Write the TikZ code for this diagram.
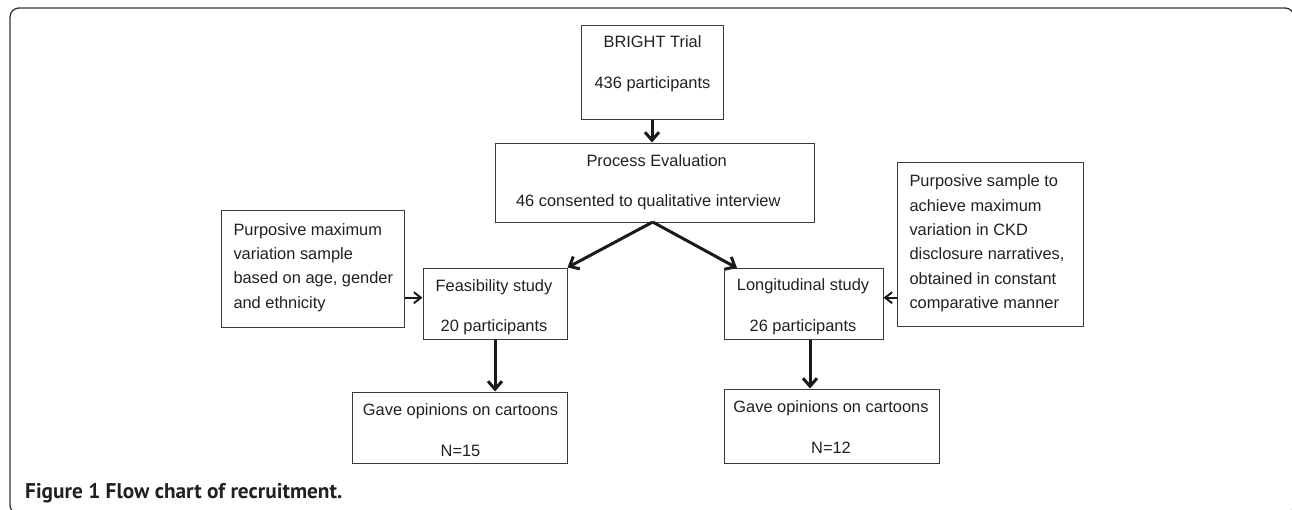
\documentclass[tikz,border=0pt]{standalone}
\usepackage{graphicx}
\usepackage{fontspec}
\setmainfont{Liberation Sans}
\newfontfamily\capfont{PT Sans}
\usetikzlibrary{arrows.meta,fit}
\definecolor{boxcol}{HTML}{3A3A3A}
\definecolor{txtcol}{HTML}{231F20}
\definecolor{arrcol}{HTML}{1A1A1A}
\definecolor{framecol}{HTML}{333333}
\begin{document}
\begin{tikzpicture}[x=1pt,y=-1pt,
  box/.style={draw=boxcol, line width=1pt, inner sep=0pt},
  txt/.style={text=txtcol, inner sep=0pt, font=\fontsize{16.4}{24.4}\selectfont},
  pairtxt/.style={text=txtcol, inner sep=0pt, anchor=base, font=\fontsize{16.4}{40.7}\selectfont},
  bigarrow/.style={draw=arrcol, line width=3pt, -{Straight Barb[length=8pt,width=14pt]}},
  smallarrow/.style={draw=arrcol, line width=2pt, -{Straight Barb[length=7pt,width=11pt]}}
]
\useasboundingbox (0,0) rectangle (1292,509);
\draw[framecol, line width=1.3pt, rounded corners=9pt] (10,8) rectangle (1294,514);

% boxes
\node[box, fit={(581,25) (723,119)}] (bright) {};
\node[box, fit={(495,143) (814,222)}] (process) {};
\node[box, fit={(423,268) (567,339)}] (feas) {};
\node[box, fit={(724,268) (883,339)}] (long) {};
\node[box, fit={(221,210) (404,327)}] (leftnote) {};
\node[box, fit={(897,162) (1083,326)}] (rightnote) {};
\node[box, fit={(352,392) (567,463)}] (gaveL) {};
\node[box, fit={(724,389) (939,463)}] (gaveR) {};

% texts
\node[pairtxt] (brightT) at (652.5,47.7) {\begin{tabular}[t]{@{}c@{}}BRIGHT Trial\\436 participants\end{tabular}};
\node[txt, anchor=base] (procA) at (656.7,166) {Process Evaluation};
\node[txt, anchor=base] (procB) at (648.3,206.7) {46 consented to qualitative interview};
\node[pairtxt] (feasT) at (494,291) {\begin{tabular}[t]{@{}c@{}}Feasibility study\\20 participants\end{tabular}};
\node[pairtxt] (longT) at (803,290.7) {\begin{tabular}[t]{@{}c@{}}Longitudinal study\\26 participants\end{tabular}};
\node[pairtxt] (gaveLT) at (460.5,415.7) {\begin{tabular}[t]{@{}c@{}}Gave opinions on cartoons\\N=15\end{tabular}};
\node[pairtxt] (gaveRT) at (831,412.7) {\begin{tabular}[t]{@{}c@{}}Gave opinions on cartoons\\N=12\end{tabular}};
\node[txt, anchor=base west] (leftnoteT) at (233.3,235) {\begin{tabular}[t]{@{}l@{}}Purposive maximum\\variation sample\\based on age, gender\\and ethnicity\end{tabular}};
\node[txt, anchor=base west] (rightnoteT) at (909.3,186.7) {\begin{tabular}[t]{@{}l@{}}Purposive sample to\\achieve maximum\\variation in CKD\\disclosure narratives,\\obtained in constant\\comparative manner\end{tabular}};

% connectors
\coordinate (apex) at (652.7,222);
\coordinate (ltip) at (737,268);
\coordinate (ldown) at (810,0);
\coordinate (harr) at (0,297.7);
\draw[bigarrow] (bright.south) -- (bright.south |- process.north);
\draw[bigarrow] (apex) -- (feas.north east);
\draw[bigarrow] (apex) -- (ltip);
\draw[bigarrow] (feas.south) -- (feas.south |- gaveL.north);
\draw[bigarrow] (ldown |- long.south) -- (ldown |- gaveR.north);
\draw[smallarrow] (leftnote.east |- harr) -- (feas.west |- harr);
\draw[smallarrow] (rightnote.west |- harr) -- (long.east |- harr);

% caption
\node[anchor=base west, inner sep=0pt, text=txtcol] (caption) at (25,498) {\resizebox{317pt}{!}{\capfont\bfseries\fontsize{18}{20}\selectfont Figure 1 Flow chart of recruitment.}};
\end{tikzpicture}
\end{document}
